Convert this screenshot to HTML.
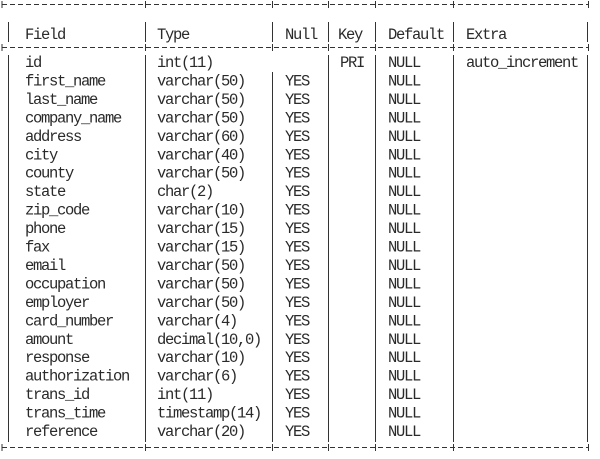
<!DOCTYPE html>
<html><head><meta charset="utf-8"><style>
html,body{margin:0;padding:0;background:#fff;}
svg{display:block}
text{font-family:"Liberation Mono",monospace;font-size:15.5px;letter-spacing:-1.3px;fill:#2a2a2a;}
</style></head><body>
<svg width="600" height="459" xmlns="http://www.w3.org/2000/svg">
<g stroke="#333" stroke-width="1" fill="none">
<line x1="2" y1="4.5" x2="588" y2="4.5" stroke-dasharray="5 3"/>
<line x1="2" y1="47.5" x2="588" y2="47.5" stroke-dasharray="5 3"/>
<line x1="2" y1="447.5" x2="588" y2="447.5" stroke-dasharray="5 3"/>
<line x1="2" y1="1" x2="2" y2="8"/><line x1="145.5" y1="1" x2="145.5" y2="8"/><line x1="272.5" y1="1" x2="272.5" y2="8"/><line x1="328.5" y1="1" x2="328.5" y2="8"/><line x1="375.5" y1="1" x2="375.5" y2="8"/><line x1="453.5" y1="1" x2="453.5" y2="8"/><line x1="588.5" y1="1" x2="588.5" y2="8"/>
<line x1="2" y1="44" x2="2" y2="51"/><line x1="145.5" y1="44" x2="145.5" y2="51"/><line x1="272.5" y1="44" x2="272.5" y2="51"/><line x1="328.5" y1="44" x2="328.5" y2="51"/><line x1="375.5" y1="44" x2="375.5" y2="51"/><line x1="453.5" y1="44" x2="453.5" y2="51"/><line x1="588.5" y1="44" x2="588.5" y2="51"/>
<line x1="2" y1="444" x2="2" y2="451"/><line x1="145.5" y1="444" x2="145.5" y2="451"/><line x1="272.5" y1="444" x2="272.5" y2="451"/><line x1="328.5" y1="444" x2="328.5" y2="451"/><line x1="375.5" y1="444" x2="375.5" y2="451"/><line x1="453.5" y1="444" x2="453.5" y2="451"/><line x1="588.5" y1="444" x2="588.5" y2="451"/>
<line x1="8.5" y1="22" x2="8.5" y2="42"/><line x1="145.5" y1="22" x2="145.5" y2="42"/><line x1="272.5" y1="22" x2="272.5" y2="42"/><line x1="328.5" y1="22" x2="328.5" y2="42"/><line x1="375.5" y1="22" x2="375.5" y2="42"/><line x1="453.5" y1="22" x2="453.5" y2="42"/><line x1="587.5" y1="22" x2="587.5" y2="42"/>
<line x1="8.5" y1="55" x2="8.5" y2="442"/><line x1="145.5" y1="55" x2="145.5" y2="442"/><line x1="272.5" y1="72" x2="272.5" y2="442"/><line x1="328.5" y1="55" x2="328.5" y2="442"/><line x1="375.5" y1="55" x2="375.5" y2="442"/><line x1="453.5" y1="55" x2="453.5" y2="442"/><line x1="587.5" y1="55" x2="587.5" y2="442"/>
</g>
<text x="25" y="39">Field</text><text x="157" y="39">Type</text><text x="285" y="39">Null</text><text x="338" y="39">Key</text><text x="388" y="39">Default</text><text x="466" y="39">Extra</text>
<text x="25" y="67">id</text><text x="157" y="67">int(11)</text><text x="340" y="67">PRI</text><text x="388" y="67">NULL</text><text x="466" y="67">auto_increment</text>
<text x="25" y="85.45">first_name</text><text x="157" y="85.45">varchar(50)</text><text x="285" y="85.45">YES</text><text x="388" y="85.45">NULL</text>
<text x="25" y="103.9">last_name</text><text x="157" y="103.9">varchar(50)</text><text x="285" y="103.9">YES</text><text x="388" y="103.9">NULL</text>
<text x="25" y="122.35">company_name</text><text x="157" y="122.35">varchar(50)</text><text x="285" y="122.35">YES</text><text x="388" y="122.35">NULL</text>
<text x="25" y="140.8">address</text><text x="157" y="140.8">varchar(60)</text><text x="285" y="140.8">YES</text><text x="388" y="140.8">NULL</text>
<text x="25" y="159.25">city</text><text x="157" y="159.25">varchar(40)</text><text x="285" y="159.25">YES</text><text x="388" y="159.25">NULL</text>
<text x="25" y="177.7">county</text><text x="157" y="177.7">varchar(50)</text><text x="285" y="177.7">YES</text><text x="388" y="177.7">NULL</text>
<text x="25" y="196.15">state</text><text x="157" y="196.15">char(2)</text><text x="285" y="196.15">YES</text><text x="388" y="196.15">NULL</text>
<text x="25" y="214.6">zip_code</text><text x="157" y="214.6">varchar(10)</text><text x="285" y="214.6">YES</text><text x="388" y="214.6">NULL</text>
<text x="25" y="233.05">phone</text><text x="157" y="233.05">varchar(15)</text><text x="285" y="233.05">YES</text><text x="388" y="233.05">NULL</text>
<text x="25" y="251.5">fax</text><text x="157" y="251.5">varchar(15)</text><text x="285" y="251.5">YES</text><text x="388" y="251.5">NULL</text>
<text x="25" y="269.95">email</text><text x="157" y="269.95">varchar(50)</text><text x="285" y="269.95">YES</text><text x="388" y="269.95">NULL</text>
<text x="25" y="288.4">occupation</text><text x="157" y="288.4">varchar(50)</text><text x="285" y="288.4">YES</text><text x="388" y="288.4">NULL</text>
<text x="25" y="306.85">employer</text><text x="157" y="306.85">varchar(50)</text><text x="285" y="306.85">YES</text><text x="388" y="306.85">NULL</text>
<text x="25" y="325.3">card_number</text><text x="157" y="325.3">varchar(4)</text><text x="285" y="325.3">YES</text><text x="388" y="325.3">NULL</text>
<text x="25" y="343.75">amount</text><text x="157" y="343.75">decimal(10,0)</text><text x="285" y="343.75">YES</text><text x="388" y="343.75">NULL</text>
<text x="25" y="362.2">response</text><text x="157" y="362.2">varchar(10)</text><text x="285" y="362.2">YES</text><text x="388" y="362.2">NULL</text>
<text x="25" y="380.65">authorization</text><text x="157" y="380.65">varchar(6)</text><text x="285" y="380.65">YES</text><text x="388" y="380.65">NULL</text>
<text x="25" y="399.1">trans_id</text><text x="157" y="399.1">int(11)</text><text x="285" y="399.1">YES</text><text x="388" y="399.1">NULL</text>
<text x="25" y="417.55">trans_time</text><text x="157" y="417.55">timestamp(14)</text><text x="285" y="417.55">YES</text><text x="388" y="417.55">NULL</text>
<text x="25" y="436">reference</text><text x="157" y="436">varchar(20)</text><text x="285" y="436">YES</text><text x="388" y="436">NULL</text>
</svg>
</body></html>
